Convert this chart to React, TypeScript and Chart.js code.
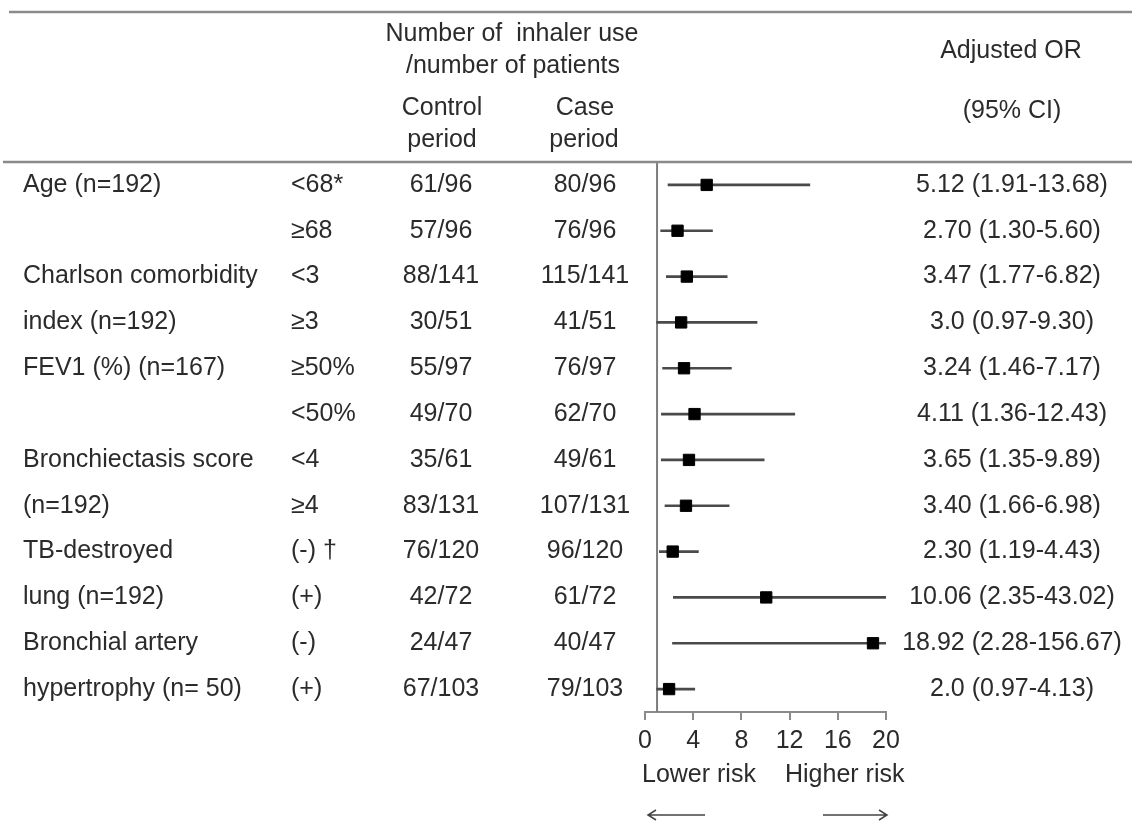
import React, { useEffect, useRef } from "react";
import { Chart, registerables } from "chart.js";

Chart.register(...registerables);

// ---- data ----
const ROW_LABELS = [
  "Age (n=192)", "", "Charlson comorbidity", "index (n=192)", "FEV1 (%) (n=167)", "",
  "Bronchiectasis score", "(n=192)", "TB-destroyed", "lung (n=192)", "Bronchial artery", "hypertrophy (n= 50)",
];
const SUBGROUPS = ["<68*", "≥68", "<3", "≥3", "≥50%", "<50%", "<4", "≥4", "(-) †", "(+)", "(-)", "(+)"];
const CONTROL_PERIOD = ["61/96", "57/96", "88/141", "30/51", "55/97", "49/70", "35/61", "83/131", "76/120", "42/72", "24/47", "67/103"];
const CASE_PERIOD = ["80/96", "76/96", "115/141", "41/51", "76/97", "62/70", "49/61", "107/131", "96/120", "61/72", "40/47", "79/103"];
const OR_VALUES = [5.12, 2.70, 3.47, 3.0, 3.24, 4.11, 3.65, 3.40, 2.30, 10.06, 18.92, 2.0];
const CI_LOW = [1.91, 1.30, 1.77, 0.97, 1.46, 1.36, 1.35, 1.66, 1.19, 2.35, 2.28, 0.97];
const CI_HIGH = [13.68, 5.60, 6.82, 9.30, 7.17, 12.43, 9.89, 6.98, 4.43, 43.02, 156.67, 4.13];
const OR_TEXT = [
  "5.12 (1.91-13.68)", "2.70 (1.30-5.60)", "3.47 (1.77-6.82)", "3.0 (0.97-9.30)",
  "3.24 (1.46-7.17)", "4.11 (1.36-12.43)", "3.65 (1.35-9.89)", "3.40 (1.66-6.98)",
  "2.30 (1.19-4.43)", "10.06 (2.35-43.02)", "18.92 (2.28-156.67)", "2.0 (0.97-4.13)",
];
const X_MIN = 0;
const X_MAX = 20;
const X_STEP = 4;
const REF_VALUE = 1;

const FONT = '"Liberation Sans", Arial, sans-serif';
const FONT_SIZE = 25;
const TEXT_COLOR = "#2b2b2b";
const LINE_GRAY = "#8a8a8a";

const tablePlugin = {
  id: "forestTable",
  beforeDatasetsDraw(chart: any) {
    const { ctx, chartArea, scales } = chart;
    const px = scales.x.getPixelForValue(REF_VALUE);
    ctx.save();
    ctx.strokeStyle = "#7c7c7c";
    ctx.lineWidth = 2;
    ctx.beginPath();
    ctx.moveTo(px, chartArea.top);
    ctx.lineTo(px, chartArea.bottom);
    ctx.stroke();
    ctx.restore();
  },
  afterDraw(chart: any) {
    const { ctx, scales } = chart;
    const y = scales.y;
    ctx.save();
    // header rules
    ctx.strokeStyle = LINE_GRAY;
    ctx.lineWidth = 2.5;
    ctx.beginPath();
    ctx.moveTo(9, 12);
    ctx.lineTo(1132, 12);
    ctx.moveTo(3, 162);
    ctx.lineTo(1132, 162);
    ctx.stroke();

    ctx.fillStyle = TEXT_COLOR;
    ctx.font = `${FONT_SIZE}px ${FONT}`;
    ctx.textBaseline = "middle";
    ctx.textAlign = "center";
    ctx.fillText("Number of  inhaler use", 512, 34);
    ctx.fillText("/number of patients", 513, 66);
    ctx.fillText("Control", 442, 108);
    ctx.fillText("period", 442, 140);
    ctx.fillText("Case", 585, 108);
    ctx.fillText("period", 584, 140);
    ctx.fillText("Adjusted OR", 1011, 51);
    ctx.fillText("(95% CI)", 1012, 111);

    for (let i = 0; i < ROW_LABELS.length; i++) {
      const py = y.getPixelForValue(i);
      ctx.textAlign = "left";
      ctx.fillText(ROW_LABELS[i], 23, py);
      ctx.fillText(SUBGROUPS[i], 291, py);
      ctx.textAlign = "center";
      ctx.fillText(CONTROL_PERIOD[i], 441, py);
      ctx.fillText(CASE_PERIOD[i], 585, py);
      ctx.fillText(OR_TEXT[i], 1012, py);
    }

    // risk labels and arrows
    ctx.textAlign = "left";
    ctx.fillText("Lower risk", 642, 775);
    ctx.fillText("Higher risk", 785, 775);
    ctx.strokeStyle = "#444";
    ctx.lineWidth = 1.5;
    ctx.beginPath();
    ctx.moveTo(648, 815);
    ctx.lineTo(705, 815);
    ctx.moveTo(656, 810);
    ctx.lineTo(648, 815);
    ctx.lineTo(656, 820);
    ctx.moveTo(823, 815);
    ctx.lineTo(887, 815);
    ctx.moveTo(879, 810);
    ctx.lineTo(887, 815);
    ctx.lineTo(879, 820);
    ctx.stroke();
    ctx.restore();
  },
};

export default function App() {
  const ref = useRef<HTMLCanvasElement | null>(null);
  useEffect(() => {
    if (!ref.current) return;
    const chart = new Chart(ref.current, {
      type: "scatter",
      data: {
        datasets: [
          {
            type: "scatter",
            label: "Adjusted OR",
            data: OR_VALUES.map((v, i) => ({ x: v, y: i })),
            pointStyle: "rect",
            pointRadius: 8,
            backgroundColor: "#000",
            borderColor: "#000",
            borderWidth: 1,
            order: 0,
          } as any,
          {
            type: "bar",
            label: "95% CI",
            indexAxis: "y",
            data: CI_LOW.map((lo, i) => ({ x: [lo, Math.min(CI_HIGH[i], X_MAX)], y: i })),
            backgroundColor: "#4a4a4a",
            borderWidth: 0,
            barThickness: 2,
            order: 1,
          } as any,
        ],
      },
      options: {
        animation: false,
        responsive: false,
        layout: { padding: { left: 645, right: 246, top: 162, bottom: 50 } },
        plugins: { legend: { display: false }, tooltip: { enabled: false } },
        scales: {
          x: {
            type: "linear",
            position: "bottom",
            min: X_MIN,
            max: X_MAX,
            offset: false,
            ticks: { stepSize: X_STEP, color: TEXT_COLOR, font: { size: FONT_SIZE, family: FONT }, padding: 6 },
            grid: { drawOnChartArea: false, drawTicks: true, tickLength: 8, color: LINE_GRAY, lineWidth: 2, offset: false },
            border: { display: true, color: LINE_GRAY, width: 2 },
            afterFit: (scale: any) => {
              scale.height = 60;
            },
          },
          y: {
            type: "linear",
            display: false,
            min: -0.5,
            max: 11.5,
            reverse: true,
            offset: false,
            grace: 0,
          },
        },
      },
      plugins: [tablePlugin],
    } as any);
    return () => chart.destroy();
  }, []);
  return (
    <div style={{ position: "absolute", left: 0, top: 0, width: 1132, height: 822, background: "#fff" }}>
      <canvas ref={ref} width={1132} height={822} style={{ width: 1132, height: 822, display: "block" }} />
    </div>
  );
}
